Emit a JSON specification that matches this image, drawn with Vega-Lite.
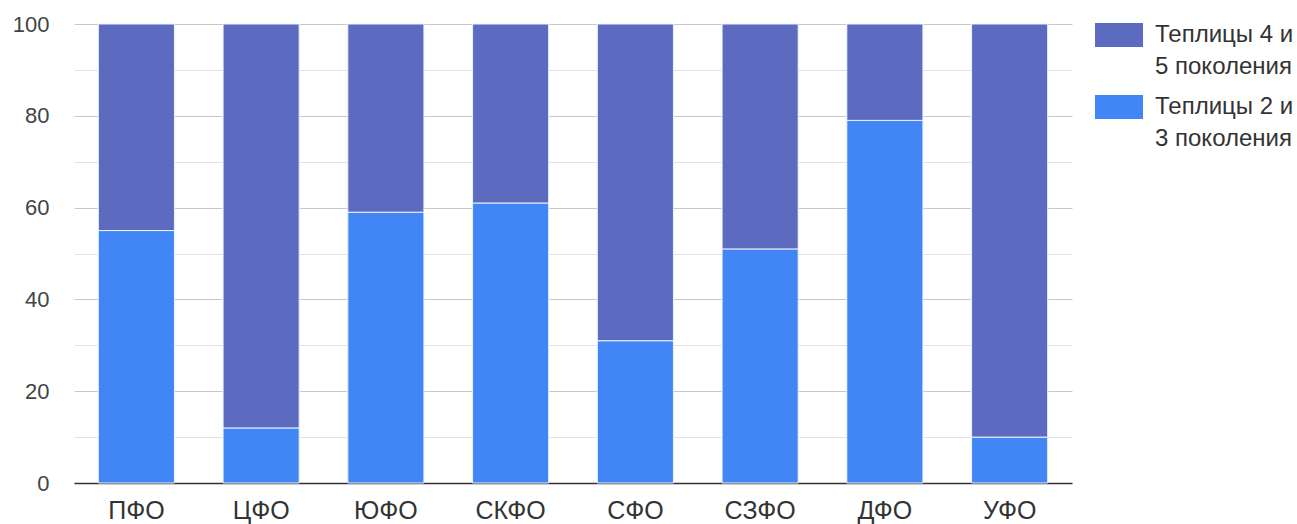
{
  "$schema": "https://vega.github.io/schema/vega-lite/v6.json",
  "autosize": {"type": "none"},
  "width": 998,
  "height": 459,
  "padding": {"left": 74, "top": 24, "right": 225, "bottom": 41},
  "background": "white",
  "config": {
    "font": "Liberation Sans",
    "view": {"stroke": null},
    "style": {"guide-label": {"lineHeight": 32}}
  },
  "data": {
    "values": [
      {"okrug": "ПФО", "series": "Теплицы 2 и 3 поколения", "value": 55},
      {"okrug": "ПФО", "series": "Теплицы 4 и 5 поколения", "value": 45},
      {"okrug": "ЦФО", "series": "Теплицы 2 и 3 поколения", "value": 12},
      {"okrug": "ЦФО", "series": "Теплицы 4 и 5 поколения", "value": 88},
      {"okrug": "ЮФО", "series": "Теплицы 2 и 3 поколения", "value": 59},
      {"okrug": "ЮФО", "series": "Теплицы 4 и 5 поколения", "value": 41},
      {"okrug": "СКФО", "series": "Теплицы 2 и 3 поколения", "value": 61},
      {"okrug": "СКФО", "series": "Теплицы 4 и 5 поколения", "value": 39},
      {"okrug": "СФО", "series": "Теплицы 2 и 3 поколения", "value": 31},
      {"okrug": "СФО", "series": "Теплицы 4 и 5 поколения", "value": 69},
      {"okrug": "СЗФО", "series": "Теплицы 2 и 3 поколения", "value": 51},
      {"okrug": "СЗФО", "series": "Теплицы 4 и 5 поколения", "value": 49},
      {"okrug": "ДФО", "series": "Теплицы 2 и 3 поколения", "value": 79},
      {"okrug": "ДФО", "series": "Теплицы 4 и 5 поколения", "value": 21},
      {"okrug": "УФО", "series": "Теплицы 2 и 3 поколения", "value": 10},
      {"okrug": "УФО", "series": "Теплицы 4 и 5 поколения", "value": 90}
    ]
  },
  "mark": {"type": "bar", "stroke": "#e8f4ff", "strokeWidth": 1},
  "encoding": {
    "x": {
      "field": "okrug",
      "type": "nominal",
      "sort": null,
      "title": null,
      "scale": {"paddingInner": 0.39, "paddingOuter": 0.195},
      "axis": {
        "labelAngle": 0,
        "labelFont": "Liberation Sans",
        "labelFontSize": 25,
        "labelColor": "#333333",
        "labelPadding": 15,
        "ticks": false,
        "domainColor": "#333333",
        "domainWidth": 1.5,
        "grid": false
      }
    },
    "y": {
      "field": "value",
      "type": "quantitative",
      "stack": "zero",
      "title": null,
      "scale": {"domain": [0, 100], "nice": false},
      "axis": {
        "values": [0, 10, 20, 30, 40, 50, 60, 70, 80, 90, 100],
        "labelExpr": "datum.value % 20 == 0 ? datum.label : ''",
        "labelFont": "Liberation Sans",
        "labelFontSize": 22,
        "labelColor": "#444444",
        "labelPadding": 25,
        "ticks": false,
        "domain": false,
        "grid": true,
        "gridColor": {"condition": {"test": "datum.value % 20 == 0", "value": "#c8c8c8"}, "value": "#e2e2e2"},
        "gridWidth": 1
      }
    },
    "color": {
      "field": "series",
      "type": "nominal",
      "scale": {
        "domain": ["Теплицы 4 и 5 поколения", "Теплицы 2 и 3 поколения"],
        "range": ["#5c6bc0", "#4285f4"]
      },
      "legend": {
        "title": null,
        "orient": "none",
        "legendX": 1021,
        "legendY": -13,
        "symbolType": "M-1,-0.5H1V0.5H-1Z",
        "symbolSize": 2304,
        "symbolStrokeWidth": 0,
        "symbolOpacity": 1,
        "labelFont": "Liberation Sans",
        "labelFontSize": 24,
        "labelColor": "#333333",
        "labelOffset": 12,
        "rowPadding": 4,
        "labelExpr": "datum.label == 'Теплицы 4 и 5 поколения' ? ['Теплицы 4 и', '5 поколения'] : ['Теплицы 2 и', '3 поколения']"
      }
    },
    "order": {"field": "series", "sort": "ascending"}
  }
}
